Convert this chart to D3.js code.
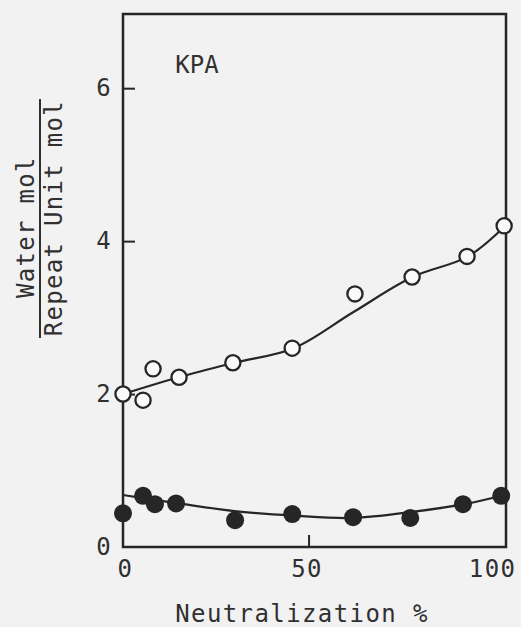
<!DOCTYPE html>
<html>
<head>
<meta charset="utf-8">
<script src="https://cdn.jsdelivr.net/npm/d3@7"></script>
<style>
  html, body { margin: 0; padding: 0; background: #f2f2f2; }
  svg { display: block; }
  text { font-family: "DejaVu Sans Mono", "Liberation Mono", monospace; fill: #303030; }
</style>
</head>
<body>
<svg id="chart" width="521" height="627"></svg>
<script>
// ---- data ----
const openX = [0, 5.4, 8.1, 15.1, 29.6, 45.6, 62.5, 77.9, 92.7, 102.7];
const openY = [2.0, 1.92, 2.33, 2.22, 2.41, 2.60, 3.31, 3.53, 3.80, 4.20];
const filledX = [0, 5.4, 8.6, 14.3, 30.2, 45.6, 62.0, 77.4, 91.6, 101.9];
const filledY = [0.44, 0.67, 0.56, 0.57, 0.35, 0.43, 0.39, 0.38, 0.56, 0.67];
// hand-drawn fitted curves
const openFitX = [0, 15, 30, 46, 62, 78, 93, 103];
const openFitY = [2.0, 2.22, 2.41, 2.60, 3.07, 3.53, 3.80, 4.20];
const filledFitX = [0, 15, 30, 46, 62, 78, 92, 102];
const filledFitY = [0.68, 0.57, 0.47, 0.41, 0.38, 0.46, 0.56, 0.67];
// ticks
const xTicks = [0, 50, 100];
const yTicks = [0, 2, 4, 6];
const xTitle = "Neutralization %";
const yTitleTop = "Water mol";
const yTitleBottom = "Repeat Unit mol";
const panelLabel = "KPA";

const svg = d3.select("#chart");
const x = d3.scaleLinear().domain([0, 103.2]).range([123, 506]);
const y = d3.scaleLinear().domain([0, 6.97]).range([547, 14]);
const ink = "#262626";

// frame
svg.append("rect")
  .attr("x", x(0)).attr("y", y(6.97))
  .attr("width", x(103.2) - x(0)).attr("height", y(0) - y(6.97))
  .attr("fill", "none").attr("stroke", ink).attr("stroke-width", 2.5);

// axes (inward ticks)
const yAxis = svg.append("g").attr("transform", `translate(${x(0)},0)`)
  .call(d3.axisLeft(y).tickValues(yTicks).tickFormat(d3.format("d"))
    .tickSizeInner(-12).tickSizeOuter(0).tickPadding(11));
const xAxis = svg.append("g").attr("transform", `translate(0,${y(0)})`)
  .call(d3.axisBottom(x).tickValues(xTicks).tickFormat(d3.format("d"))
    .tickSizeInner(-12).tickSizeOuter(0).tickPadding(13));
[yAxis, xAxis].forEach(g => {
  g.select(".domain").remove();
  g.selectAll("line").attr("stroke", ink).attr("stroke-width", 2);
  g.selectAll("text").attr("font-size", 24).attr("letter-spacing", 1.4)
    .attr("font-family", "DejaVu Sans Mono").attr("fill", "#303030");
});
xAxis.selectAll(".tick").filter(d => d === 0).select("text").attr("dx", 2);
xAxis.selectAll(".tick").filter(d => d !== 0).select("text").attr("dx", -2);
yAxis.selectAll(".tick").filter(d => d === 0).select("line").remove();
xAxis.selectAll(".tick").filter(d => d === 0 || d === 100).select("line").remove();

// fitted curves
const line = d3.line().x(d => x(d[0])).y(d => y(d[1])).curve(d3.curveCatmullRom.alpha(0.5));
svg.append("path").datum(openFitX.map((v, i) => [v, openFitY[i]]))
  .attr("d", line).attr("fill", "none").attr("stroke", ink).attr("stroke-width", 2.2);
svg.append("path").datum(filledFitX.map((v, i) => [v, filledFitY[i]]))
  .attr("d", line).attr("fill", "none").attr("stroke", ink).attr("stroke-width", 2.2);

// points
svg.selectAll("circle.open").data(openX.map((v, i) => [v, openY[i]])).enter()
  .append("circle").attr("class", "open")
  .attr("cx", d => x(d[0])).attr("cy", d => y(d[1])).attr("r", 7.6)
  .attr("fill", "#f9f9f9").attr("stroke", ink).attr("stroke-width", 2.3);
svg.selectAll("circle.filled").data(filledX.map((v, i) => [v, filledY[i]])).enter()
  .append("circle").attr("class", "filled")
  .attr("cx", d => x(d[0])).attr("cy", d => y(d[1])).attr("r", 9)
  .attr("fill", ink);

// panel label
svg.append("text").attr("x", 197).attr("y", 73).attr("text-anchor", "middle")
  .attr("font-size", 24).text(panelLabel);

// x title
svg.append("text").attr("x", 302).attr("y", 622).attr("text-anchor", "middle")
  .attr("font-size", 24).attr("letter-spacing", 1.4).text(xTitle);

// y title as a fraction
svg.append("text").attr("transform", "translate(34,227) rotate(-90)")
  .attr("text-anchor", "middle").attr("font-size", 24).attr("letter-spacing", 1.3).text(yTitleTop);
svg.append("line").attr("x1", 40).attr("x2", 40).attr("y1", 99).attr("y2", 338)
  .attr("stroke", "#303030").attr("stroke-width", 2);
svg.append("text").attr("transform", "translate(62,218) rotate(-90)")
  .attr("text-anchor", "middle").attr("font-size", 24).attr("letter-spacing", 1.3).text(yTitleBottom);
</script>
</body>
</html>
